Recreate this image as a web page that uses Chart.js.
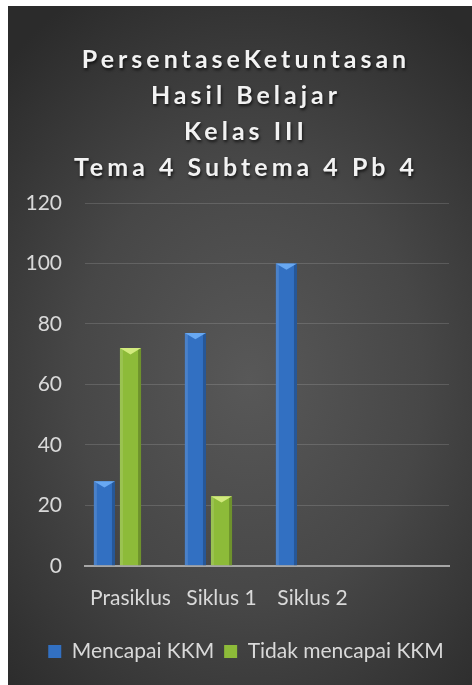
<!DOCTYPE html>
<html>
<head>
<meta charset="utf-8">
<script src="https://cdn.jsdelivr.net/npm/chart.js@4/dist/chart.umd.min.js"></script>
<style>
  html, body { margin: 0; background: #fff; }
  #wrap {
    position: absolute; left: 8px; top: 6px; width: 464px; height: 679px;
    background: radial-gradient(ellipse 75% 65% at 52% 55%, #585858 0%, #474747 50%, #2b2b2b 100%);
  }
</style>
</head>
<body>
<div id="wrap"><canvas id="chart" width="464" height="679"></canvas></div>
<script>
// data
const categories = ["Prasiklus", "Siklus 1", "Siklus 2", ""];
const mencapaiKKM = [28, 77, 100, null];
const tidakMencapaiKKM = [72, 23, 0, null];
const seriKosong = [null, null, null, null]; // empty third slot, as in the original
const titleLines = ["PersentaseKetuntasan", "Hasil Belajar", "Kelas III", "Tema 4 Subtema 4 Pb 4"];
const yTicks = [0, 20, 40, 60, 80, 100, 120];

const FONT = "Lato, 'Open Sans', sans-serif";

// bevel look: light cap on top of each bar + edge shading
const bevelBars = {
  id: "bevelBars",
  afterDatasetsDraw(chart) {
    const ctx = chart.ctx;
    chart.data.datasets.forEach((ds, i) => {
      if (!ds.capColor) return;
      chart.getDatasetMeta(i).data.forEach(bar => {
        const { x, y, base, width } = bar.getProps(["x", "y", "base", "width"], true);
        if (!isFinite(y) || base - y < 1) return;
        const l = x - width / 2, r = x + width / 2;
        ctx.save();
        ctx.fillStyle = "rgba(255,255,255,0.12)";
        ctx.fillRect(l, y, 3, base - y);
        ctx.fillStyle = "rgba(0,0,0,0.22)";
        ctx.fillRect(r - 3, y, 3, base - y);
        ctx.beginPath();
        ctx.moveTo(l, y);
        ctx.lineTo(r, y);
        ctx.lineTo(x, y + width * 0.3);
        ctx.closePath();
        ctx.fillStyle = ds.capColor;
        ctx.fill();
        ctx.restore();
      });
    });
  }
};

// wrap a box's draw to add spacing / shadow / a small horizontal shift
function restyle(box, spacing, shadow, dx) {
  if (!box || box._styled) return;
  const draw = box.draw.bind(box);
  box.draw = function (area) {
    const ctx = box.ctx;
    ctx.save();
    ctx.translate(dx, 0);
    ctx.letterSpacing = spacing;
    if (shadow) {
      ctx.shadowColor = "rgba(0,0,0,0.7)";
      ctx.shadowOffsetX = 1;
      ctx.shadowOffsetY = 2;
      ctx.shadowBlur = 3;
    }
    draw(area);
    ctx.restore();
  };
  box._styled = true;
}

const boxStyle = {
  id: "boxStyle",
  beforeDraw(chart) {
    restyle(chart.titleBlock, "4px", true, 8);
    restyle(chart.legend, "0px", false, 8);
  }
};

new Chart(document.getElementById("chart"), {
  type: "bar",
  data: {
    labels: categories,
    datasets: [
      { label: "Mencapai KKM", data: mencapaiKKM, backgroundColor: "#3270c2", capColor: "#68a8f2" },
      { label: "Tidak mencapai KKM", data: tidakMencapaiKKM, backgroundColor: "#8dbb39", capColor: "#d2ea7e" },
      { label: "", data: seriKosong, backgroundColor: "transparent" }
    ]
  },
  options: {
    responsive: false,
    animation: false,
    categoryPercentage: 0.86,
    barPercentage: 0.81,
    layout: { padding: { left: 19, right: 23, bottom: 13 } },
    plugins: {
      tooltip: { enabled: false },
      title: {
        display: true,
        text: titleLines,
        color: "#f2f2f2",
        font: { family: FONT, size: 25, weight: "bold", lineHeight: 1.44 },
        padding: { top: 36, bottom: 17 }
      },
      legend: {
        position: "bottom",
        labels: {
          color: "#d9d9d9",
          font: { family: FONT, size: 21 },
          boxWidth: 13,
          boxHeight: 13,
          padding: 10,
          filter: item => item.datasetIndex < 2
        }
      }
    },
    scales: {
      x: {
        afterFit: s => { s.height += 8; },
        grid: { display: false },
        border: { color: "#a6a6a6", width: 2 },
        ticks: { color: "#d9d9d9", font: { family: FONT, size: 21 }, padding: 12, maxRotation: 0 }
      },
      y: {
        min: 0,
        max: 120,
        afterBuildTicks: s => { s.ticks = yTicks.map(v => ({ value: v })); },
        afterFit: s => { s.width = 58; },
        grid: { color: "rgba(255,255,255,0.14)", drawTicks: false },
        border: { display: false },
        ticks: { color: "#d9d9d9", font: { family: FONT, size: 21 }, padding: 23 }
      }
    }
  },
  plugins: [bevelBars, boxStyle]
});
</script>
</body>
</html>
